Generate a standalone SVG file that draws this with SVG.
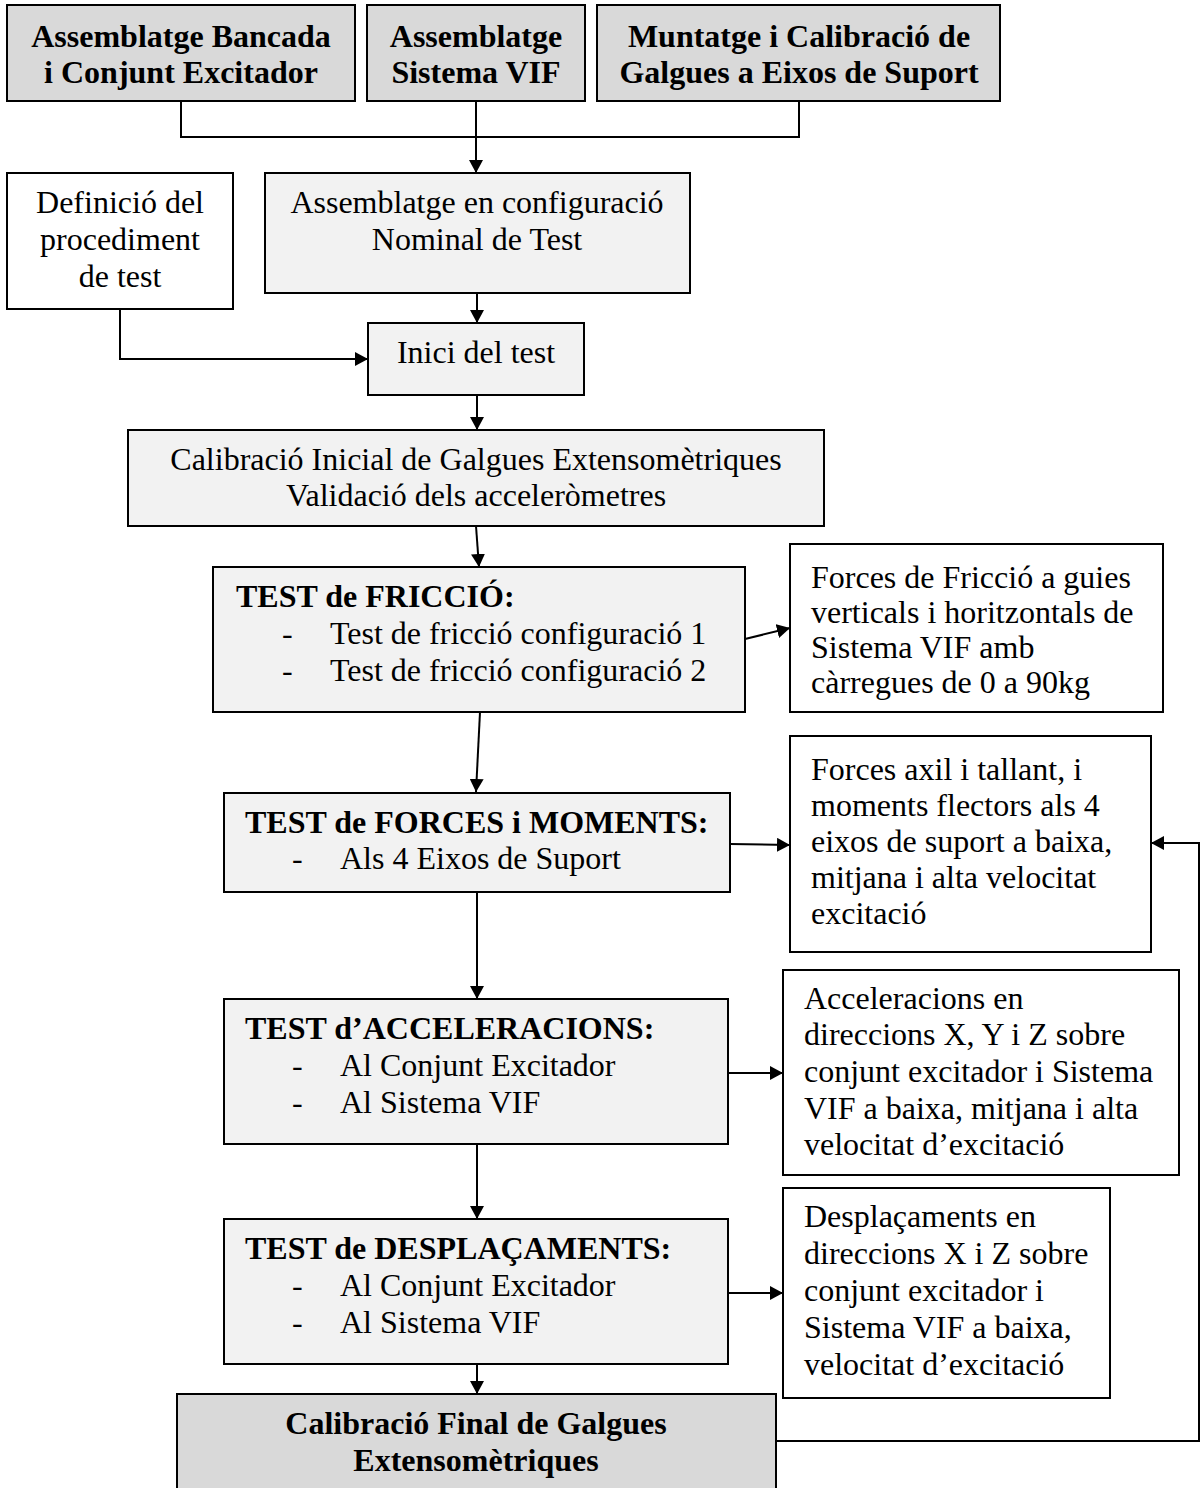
<svg xmlns="http://www.w3.org/2000/svg" width="1203" height="1488" viewBox="0 0 1203 1488">
<style>
.box{stroke:#000;stroke-width:2}
.dk{fill:#d9d9d9}
.lt{fill:#f2f2f2}
.wh{fill:#fff}
text{font-family:"Liberation Serif","Times New Roman",serif;font-size:32px;fill:#000}
.b{font-weight:bold}
.c{text-anchor:middle}
.con{fill:none;stroke:#000;stroke-width:2}
</style>
<defs>
<marker id="ah" markerUnits="userSpaceOnUse" markerWidth="14" markerHeight="14" refX="13" refY="7" orient="auto">
<path d="M0,0 L13,7 L0,14 z" fill="#000"/>
</marker>
</defs>
<rect width="1203" height="1488" fill="#fff"/>

<g id="connectors">
<path class="con" d="M181,101 V137 H799 V101"/>
<path class="con" d="M476,101 V173" marker-end="url(#ah)"/>
<path class="con" d="M477,293 V323" marker-end="url(#ah)"/>
<path class="con" d="M120,309 V359 H368" marker-end="url(#ah)"/>
<path class="con" d="M477,395 V430" marker-end="url(#ah)"/>
<path class="con" d="M476,526 L479,567" marker-end="url(#ah)"/>
<path class="con" d="M745,639 L790,628" marker-end="url(#ah)"/>
<path class="con" d="M480,712 L476,792" marker-end="url(#ah)"/>
<path class="con" d="M730,844 L790,845" marker-end="url(#ah)"/>
<path class="con" d="M477,892 V999" marker-end="url(#ah)"/>
<path class="con" d="M728,1073 H783" marker-end="url(#ah)"/>
<path class="con" d="M477,1144 V1219" marker-end="url(#ah)"/>
<path class="con" d="M728,1293 H783" marker-end="url(#ah)"/>
<path class="con" d="M477,1364 V1394" marker-end="url(#ah)"/>
<path class="con" d="M776,1441 H1199 V843 H1151" marker-end="url(#ah)"/>
</g>

<g id="n-bancada">
<rect class="box dk" x="7" y="5" width="348" height="96"/>
<text class="b c" x="181" y="47">Assemblatge Bancada</text>
<text class="b c" x="181" y="83">i Conjunt Excitador</text>
</g>
<g id="n-vif">
<rect class="box dk" x="367" y="5" width="218" height="96"/>
<text class="b c" x="476" y="47">Assemblatge</text>
<text class="b c" x="476" y="83">Sistema VIF</text>
</g>
<g id="n-muntatge">
<rect class="box dk" x="597" y="5" width="403" height="96"/>
<text class="b c" x="799" y="47">Muntatge i Calibració de</text>
<text class="b c" x="799" y="83">Galgues a Eixos de Suport</text>
</g>

<g id="n-definicio">
<rect class="box wh" x="7" y="173" width="226" height="136"/>
<text class="c" x="120" y="213">Definició del</text>
<text class="c" x="120" y="250">procediment</text>
<text class="c" x="120" y="287">de test</text>
</g>
<g id="n-config">
<rect class="box lt" x="265" y="173" width="425" height="120"/>
<text class="c" x="477" y="213">Assemblatge en configuració</text>
<text class="c" x="477" y="250">Nominal de Test</text>
</g>
<g id="n-inici">
<rect class="box lt" x="368" y="323" width="216" height="72"/>
<text class="c" x="476" y="363">Inici del test</text>
</g>
<g id="n-calib-ini">
<rect class="box lt" x="128" y="430" width="696" height="96"/>
<text class="c" x="476" y="470">Calibració Inicial de Galgues Extensomètriques</text>
<text class="c" x="476" y="506">Validació dels acceleròmetres</text>
</g>

<g id="n-friccio">
<rect class="box lt" x="213" y="567" width="532" height="145"/>
<text class="b" x="236" y="607">TEST de FRICCIÓ:</text>
<text x="282" y="644">-</text>
<text x="330" y="644">Test de fricció configuració 1</text>
<text x="282" y="681">-</text>
<text x="330" y="681">Test de fricció configuració 2</text>
</g>
<g id="n-res-friccio">
<rect class="box wh" x="790" y="544" width="373" height="168"/>
<text x="811" y="588">Forces de Fricció a guies</text>
<text x="811" y="623">verticals i horitzontals de</text>
<text x="811" y="658">Sistema VIF amb</text>
<text x="811" y="693">càrregues de 0 a 90kg</text>
</g>

<g id="n-forces">
<rect class="box lt" x="224" y="793" width="506" height="99"/>
<text class="b" x="245" y="833">TEST de FORCES i MOMENTS:</text>
<text x="292" y="869">-</text>
<text x="340" y="869">Als 4 Eixos de Suport</text>
</g>
<g id="n-res-forces">
<rect class="box wh" x="790" y="736" width="361" height="216"/>
<text x="811" y="780">Forces axil i tallant, i</text>
<text x="811" y="816">moments flectors als 4</text>
<text x="811" y="852">eixos de suport a baixa,</text>
<text x="811" y="888">mitjana i alta velocitat</text>
<text x="811" y="924">excitació</text>
</g>

<g id="n-acc">
<rect class="box lt" x="224" y="999" width="504" height="145"/>
<text class="b" x="245" y="1039">TEST d’ACCELERACIONS:</text>
<text x="292" y="1076">-</text>
<text x="340" y="1076">Al Conjunt Excitador</text>
<text x="292" y="1113">-</text>
<text x="340" y="1113">Al Sistema VIF</text>
</g>
<g id="n-res-acc">
<rect class="box wh" x="783" y="970" width="396" height="205"/>
<text x="804" y="1009">Acceleracions en</text>
<text x="804" y="1045">direccions X, Y i Z sobre</text>
<text x="804" y="1082">conjunt excitador i Sistema</text>
<text x="804" y="1119">VIF a baixa, mitjana i alta</text>
<text x="804" y="1155">velocitat d’excitació</text>
</g>

<g id="n-despl">
<rect class="box lt" x="224" y="1219" width="504" height="145"/>
<text class="b" x="245" y="1259">TEST de DESPLAÇAMENTS:</text>
<text x="292" y="1296">-</text>
<text x="340" y="1296">Al Conjunt Excitador</text>
<text x="292" y="1333">-</text>
<text x="340" y="1333">Al Sistema VIF</text>
</g>
<g id="n-res-despl">
<rect class="box wh" x="783" y="1188" width="327" height="210"/>
<text x="804" y="1227">Desplaçaments en</text>
<text x="804" y="1264">direccions X i Z sobre</text>
<text x="804" y="1301">conjunt excitador i</text>
<text x="804" y="1338">Sistema VIF a baixa,</text>
<text x="804" y="1375">velocitat d’excitació</text>
</g>

<g id="n-calib-final">
<rect class="box dk" x="177" y="1394" width="599" height="100"/>
<text class="b c" x="476" y="1434">Calibració Final de Galgues</text>
<text class="b c" x="476" y="1471">Extensomètriques</text>
</g>
</svg>
